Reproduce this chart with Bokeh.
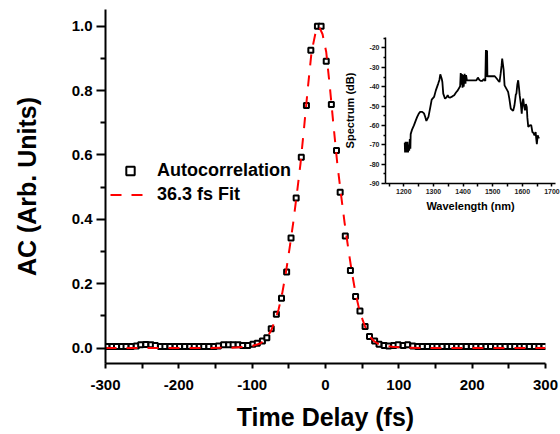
from bokeh.plotting import figure
from bokeh.layouts import column, row
from bokeh.models import (Legend, LegendItem, Range1d, FixedTicker,
                          PrintfTickFormatter, AllLabels)
from bokeh.embed import file_html
from bokeh.resources import INLINE

# ---- Autocorrelation data (time delay in fs, normalised AC) ----
ac_t = [-298, -291, -285, -278, -272, -265, -258, -252, -245, -238, -232,
        -225, -219, -212, -205, -199, -192, -185, -179, -172, -166, -159,
        -152, -146, -139, -132, -126, -119, -113, -106, -99, -93, -86, -80,
        -74, -67, -60, -53, -47, -40, -33, -26, -20, -11, -6, 1, 8, 15, 20,
        27, 34, 41, 47, 54, 60, 67, 73, 80, 86, 93, 99, 106, 112, 119, 126,
        132, 139, 146, 152, 159, 166, 172, 179, 185, 192, 199, 205, 212, 219,
        225, 232, 238, 245, 252, 258, 265, 271, 278, 285, 291, 298]
ac_y = [0.005, 0.005, 0.005, 0.005, 0.005, 0.005, 0.006, 0.01, 0.011, 0.01,
        0.008, 0.005, 0.005, 0.005, 0.005, 0.005, 0.005, 0.005, 0.005, 0.005,
        0.005, 0.005, 0.005, 0.006, 0.01, 0.01, 0.01, 0.01, 0.008, 0.008,
        0.012, 0.015, 0.022, 0.032, 0.06, 0.105, 0.155, 0.236, 0.342, 0.466,
        0.593, 0.754, 0.925, 1.0, 1.0, 0.891, 0.757, 0.614, 0.484, 0.348,
        0.241, 0.16, 0.115, 0.067, 0.036, 0.022, 0.012, 0.008, 0.006, 0.008,
        0.01, 0.008, 0.01, 0.006, 0.005, 0.005, 0.005, 0.005, 0.005, 0.005,
        0.005, 0.005, 0.005, 0.005, 0.005, 0.005, 0.005, 0.005, 0.005, 0.005,
        0.005, 0.005, 0.005, 0.005, 0.005, 0.005, 0.005, 0.005, 0.005, 0.005,
        0.005]

# ---- Fit curve ----
fit_t = [-300, -250, -200, -159, -129, -109, -99, -89, -84, -79, -74, -69,
         -64, -59, -54, -49, -44, -39, -34, -29, -24, -19, -14, -9, -4, 1, 6,
         11, 16, 21, 26, 31, 36, 41, 46, 51, 56, 61, 66, 71, 81, 91, 111, 141,
         200, 250, 300]
fit_y = [0.0, 0.0, 0.0, 0.0, 0.001, 0.004, 0.007, 0.014, 0.022, 0.035, 0.055,
         0.085, 0.12, 0.17, 0.235, 0.31, 0.39, 0.48, 0.575, 0.69, 0.81, 0.92,
         0.975, 1.0, 0.975, 0.92, 0.81, 0.69, 0.575, 0.48, 0.39, 0.31, 0.235,
         0.17, 0.12, 0.085, 0.055, 0.035, 0.022, 0.014, 0.007, 0.004, 0.001,
         0.0, 0.0, 0.0, 0.0]

# ---- Inset spectrum (wavelength nm, dB) ----
sp_wl = [1203, 1204, 1206, 1207, 1209, 1210, 1212, 1214, 1216, 1218, 1220,
         1222, 1223, 1228, 1234, 1240, 1245, 1250, 1255, 1262, 1268, 1272,
         1276, 1280, 1283, 1289, 1294, 1302, 1308, 1316, 1320, 1323, 1326,
         1328, 1330, 1333, 1339, 1344, 1348, 1352, 1357, 1364, 1370, 1376,
         1382, 1390, 1392, 1394, 1396, 1398, 1400, 1402, 1405, 1408, 1410,
         1413, 1420, 1433, 1445, 1450, 1455, 1459, 1465, 1470, 1475, 1477,
         1478, 1479, 1480, 1481, 1482, 1490, 1500, 1507, 1512, 1518, 1523,
         1527, 1530, 1532, 1535, 1537, 1540, 1546, 1552, 1556, 1561, 1565,
         1569, 1573, 1575, 1578, 1580, 1583, 1586, 1589, 1591, 1595, 1598,
         1600, 1603, 1606, 1609, 1612, 1615, 1617, 1620, 1625, 1630, 1634,
         1638, 1641, 1645, 1647, 1649, 1652, 1655, 1657]
sp_db = [-69, -74, -68.5, -74, -69, -74, -68.5, -74, -70, -73, -67, -72,
         -64.5, -62, -60, -57.5, -55.6, -54, -53, -53, -53.8, -55.5, -57.7,
         -56.5, -55.6, -50.8, -46.7, -45.3, -41.9, -38.4, -36.5, -33.6, -35,
         -36, -37.6, -43.6, -46.2, -45.5, -44.4, -45.5, -45.6, -45, -44.4, -43,
         -41.9, -39.8, -33, -39, -33.5, -40.5, -34, -40, -33.3, -38.4, -34,
         -36.7, -36.7, -36.7, -36.7, -35.3, -36.5, -37, -37, -36, -37, -21,
         -35, -21, -35, -21.5, -34.6, -34.6, -34.6, -34.6, -35.5, -36.7,
         -37.6, -33, -29, -25.5, -29, -31.5, -39.3, -41, -42.7, -46, -51.3,
         -52, -52.5, -50, -47.9, -44, -43.6, -39, -36.7, -41, -44.4, -49,
         -53.9, -49, -46.2, -50, -52.2, -49, -50.5, -56, -60.8, -60, -59.9,
         -63.4, -64, -65.1, -63.4, -67, -69.7, -65.1, -66.5, -66]

x_major = [-300, -200, -100, 0, 100, 200, 300]
x_minor = [-250, -150, -50, 50, 150, 250]
y_major = [0.0, 0.2, 0.4, 0.6, 0.8, 1.0]
y_minor = [0.1, 0.3, 0.5, 0.7, 0.9]
in_x_major = [1200, 1300, 1400, 1500, 1600, 1700]
in_x_minor = [1150, 1250, 1350, 1450, 1550, 1650]
in_y_major = [-90, -80, -70, -60, -50, -40, -30, -20]
in_y_minor = [-85, -75, -65, -55, -45, -35, -25, -15]

FONT = "Liberation Sans"

# ---------------- main figure ----------------
p = figure(width=560, height=434, output_backend="svg", toolbar_location=None,
           x_range=Range1d(-300, 300), y_range=Range1d(-0.048, 1.052),
           min_border_left=105, min_border_right=15, min_border_top=9,
           min_border_bottom=71)
p.outline_line_color = None
p.grid.visible = False
p.background_fill_color = "white"
p.border_fill_color = "white"

p.xaxis.ticker = FixedTicker(ticks=x_major, minor_ticks=x_minor)
p.yaxis.ticker = FixedTicker(ticks=y_major, minor_ticks=y_minor)
p.xaxis.formatter = PrintfTickFormatter(format="%d")
p.yaxis.formatter = PrintfTickFormatter(format="%.1f")

for ax in (p.xaxis[0], p.yaxis[0]):
    ax.axis_line_width = 2
    ax.major_tick_line_width = 2
    ax.minor_tick_line_width = 2
    ax.major_tick_in = 0
    ax.minor_tick_in = 0
    ax.major_label_text_font = FONT
    ax.major_label_text_font_style = "bold"
    ax.major_label_text_font_size = "15px"
    ax.major_label_text_color = "black"
    ax.axis_label_text_font = FONT
    ax.axis_label_text_font_style = "bold"
    ax.axis_label_text_font_size = "25px"
    ax.axis_label_text_color = "black"

p.xaxis.axis_label = "Time Delay (fs)"
p.xaxis.major_tick_out = 5
p.xaxis.minor_tick_out = 5
p.xaxis.major_label_standoff = 11
p.xaxis.axis_label_standoff = 10

p.yaxis.axis_label = "AC (Arb. Units)"
p.yaxis.major_tick_out = 9
p.yaxis.minor_tick_out = 5
p.yaxis.major_label_standoff = 4
p.yaxis.axis_label_standoff = 28

sq = p.scatter(ac_t, ac_y, marker="square", size=5, line_color="black",
               line_width=2, fill_color="white")
fit = p.line(fit_t, fit_y, line_color="red", line_width=2, line_dash="11 10")

legend = Legend(items=[LegendItem(label="Autocorrelation", renderers=[sq]),
                       LegendItem(label="36.3 fs Fit", renderers=[fit])],
                location=(5, 158), orientation="vertical",
                glyph_width=40, glyph_height=21, label_height=21,
                label_standoff=7, spacing=3, padding=0, margin=0,
                border_line_color=None, background_fill_alpha=0,
                label_text_font=FONT, label_text_font_style="bold",
                label_text_font_size="18px", label_text_color="black")
p.add_layout(legend)

# ---------------- inset figure ----------------
q = figure(width=222, height=190, output_backend="svg", toolbar_location=None,
           x_range=Range1d(1138, 1712), y_range=Range1d(-90, -14.6),
           min_border_left=47, min_border_right=5, min_border_top=9,
           min_border_bottom=35)
q.outline_line_color = None
q.grid.visible = False
q.background_fill_alpha = 0
q.border_fill_alpha = 0

q.xaxis.ticker = FixedTicker(ticks=in_x_major, minor_ticks=in_x_minor)
q.yaxis.ticker = FixedTicker(ticks=in_y_major, minor_ticks=in_y_minor)
q.xaxis.formatter = PrintfTickFormatter(format="%d")
q.yaxis.formatter = PrintfTickFormatter(format="%d")
for ax in (q.xaxis[0], q.yaxis[0]):
    ax.axis_line_width = 1.5
    ax.major_tick_line_width = 1.5
    ax.minor_tick_line_width = 1.5
    ax.major_tick_in = 0
    ax.minor_tick_in = 0
    ax.major_label_policy = AllLabels()
    ax.major_label_text_font = FONT
    ax.major_label_text_font_style = "bold"
    ax.major_label_text_font_size = "7px"
    ax.major_label_text_color = "#222222"
    ax.major_label_standoff = 2
    ax.axis_label_text_font = FONT
    ax.axis_label_text_font_style = "bold"
    ax.axis_label_text_font_size = "11px"
    ax.axis_label_text_color = "black"

q.xaxis.axis_label = "Wavelength (nm)"
q.xaxis.major_tick_out = 3
q.xaxis.minor_tick_out = 3
q.xaxis.axis_label_standoff = 3
q.yaxis.axis_label = "Spectrum (dB)"
q.yaxis.major_tick_out = 4
q.yaxis.minor_tick_out = 2
q.yaxis.axis_label_standoff = 10

q.line(sp_wl, sp_db, line_color="black", line_width=1.8)

inset_box = row(q)
inset_box.margin = (-406, 0, 216, 338)

layout = column(p, inset_box, spacing=0)
open("out.html", "w").write(file_html(layout, INLINE))
